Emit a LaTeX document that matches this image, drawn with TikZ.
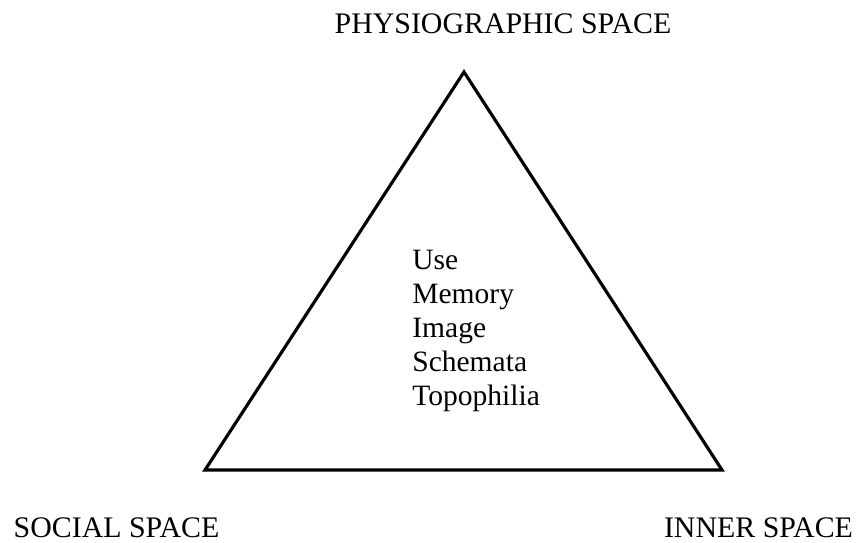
\documentclass[tikz,border=0pt]{standalone}
\usepackage{fontspec}
\setmainfont{Liberation Serif}
\usetikzlibrary{positioning}
\tikzset{
  label/.style={
    font=\fontsize{17}{19}\selectfont,
    inner sep=0pt
  },
  side/.style={
    draw,
    line width=1.8pt,
    line join=miter
  },
  item/.style={
    font=\fontsize{16.8}{19.3}\selectfont,
    align=left,
    inner sep=0pt,
    anchor=north west
  }
}

\begin{document}
\begin{tikzpicture}[x=0.02cm,y=-0.02cm]

  \useasboundingbox (0,0) rectangle (856,543);

  % corners
  \coordinate (top) at (464,72);
  \coordinate (left) at (205,470);
  \coordinate (right) at (722,470);

  \draw[side] (top) -- (left) -- (right) -- cycle;

  % labels
  \node[label] (physio) at (503,23.5) {PHYSIOGRAPHIC SPACE};
  \node[label] (social) at (116.5,527.5) {SOCIAL SPACE};
  \node[label] (inner) at (758.5,527.5) {INNER SPACE};

  % content
  \node[item] (list) at (412,250) {Use\\Memory\\Image\\Schemata\\Topophilia};

\end{tikzpicture}
\end{document}
